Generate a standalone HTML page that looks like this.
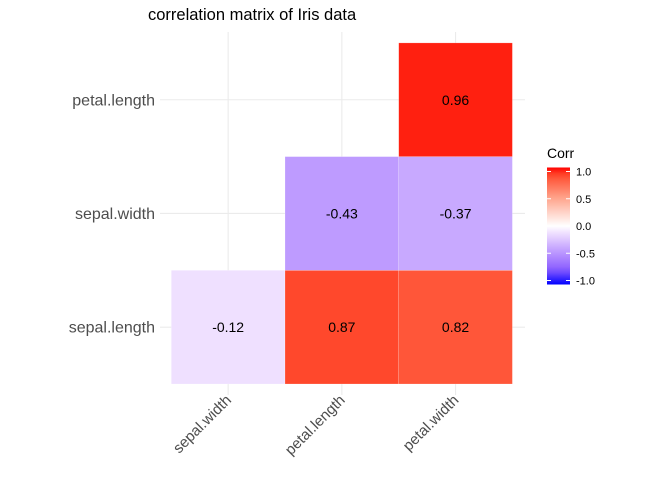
<!DOCTYPE html>
<html><head><meta charset="utf-8"><style>
body{margin:0;background:#fff;font-family:"Liberation Sans",sans-serif}
svg text{font-family:"Liberation Sans",sans-serif}
</style></head><body>
<svg id="c" width="672" height="480" xmlns="http://www.w3.org/2000/svg"></svg>
<script>
const xCats=["sepal.width","petal.length","petal.width"];
const yCats=["sepal.length","sepal.width","petal.length"];
const cellX=["sepal.width","petal.length","petal.width","petal.length","petal.width","petal.width"];
const cellY=["sepal.length","sepal.length","sepal.length","sepal.width","sepal.width","petal.length"];
const cellV=[-0.12,0.87,0.82,-0.43,-0.37,0.96];
const legendTicks=[1.0,0.5,0.0,-0.5,-1.0];

const NS="http://www.w3.org/2000/svg";
const svg=document.getElementById('c');
function mk(t,a,p){const e=document.createElementNS(NS,t);for(const k in a)e.setAttribute(k,a[k]);(p||svg).appendChild(e);return e;}
const bw=113.7, x0=171.3, yB=384;
const xS=c=>x0+bw*(xCats.indexOf(c)+0.5);
const yS=c=>yB-bw*(yCats.indexOf(c)+0.5);
const stops=[[-1,[0,0,255]],[-0.75,[138,92,255]],[-0.5,[180,142,255]],[-0.43,[190,155,255]],[-0.37,[200,169,255]],[-0.12,[239,224,255]],[0,[255,255,255]],[0.25,[255,208,195]],[0.5,[255,159,134]],[0.82,[255,86,57]],[0.87,[255,72,44]],[0.96,[255,32,16]],[1,[255,0,0]]];
function col(v){for(let i=0;i<stops.length-1;i++){const[a,ca]=stops[i],[b,cb]=stops[i+1];if(v>=a&&v<=b){const t=(v-a)/(b-a);return`rgb(${ca.map((c,j)=>Math.round(c+(cb[j]-c)*t)).join(',')})`;}}return'#fff';}

xCats.forEach(c=>{const l=mk('line',{x1:xS(c),x2:xS(c),y1:32,y2:395,stroke:'#ebebeb','stroke-width':1.1});
});
yCats.forEach(c=>{const l=mk('line',{x1:160,x2:525,y1:yS(c),y2:yS(c),stroke:'#ebebeb','stroke-width':1.1});
});
cellV.forEach((v,i)=>{const cx=xS(cellX[i]),cy=yS(cellY[i]);
const r=mk('rect',{x:cx-bw/2,y:cy-bw/2,width:bw,height:bw,fill:col(v),stroke:'rgba(255,255,255,0.4)','stroke-width':0.5});

const t=mk('text',{x:cx,y:cy+5,'text-anchor':'middle','font-size':14,fill:'#000'});t.textContent=v.toFixed(2);
});
yCats.forEach(c=>{const t=mk('text',{x:155,y:yS(c)+5.5,'text-anchor':'end','font-size':16,fill:'#4d4d4d'});t.textContent=c;
});
xCats.forEach(c=>{const x=xS(c)+4,y=401;const t=mk('text',{x:x,y:y,'text-anchor':'end','font-size':15,fill:'#4d4d4d',transform:`rotate(-45 ${x} ${y})`});t.textContent=c;
});
const ti=mk('text',{x:148,y:20,'font-size':16.5,fill:'#000'});ti.textContent='correlation matrix of Iris data';

const g=mk('g',{});
const lt=mk('text',{x:547,y:158,'font-size':14,fill:'#000'},g);lt.textContent='Corr';

const defs=mk('defs',{},g);const lg=mk('linearGradient',{id:'lg',x1:0,y1:0,x2:0,y2:1},defs);
const ly=v=>226-v*54.5;
for(let k=0;k<=20;k++){const v=1-k/10;mk('stop',{offset:(k/20),'stop-color':col(v)},lg);}
const bar=mk('rect',{x:547,y:ly(1)-4,width:23,height:ly(-1)-ly(1)+8,fill:'url(#lg)'},g);

legendTicks.forEach(v=>{mk('line',{x1:547,x2:551,y1:ly(v),y2:ly(v),stroke:'#fff'},g);mk('line',{x1:566,x2:570,y1:ly(v),y2:ly(v),stroke:'#fff'},g);
const t=mk('text',{x:576,y:ly(v)+4,'font-size':11,fill:'#000'},g);t.textContent=v.toFixed(1);
});
</script>
</body></html>
